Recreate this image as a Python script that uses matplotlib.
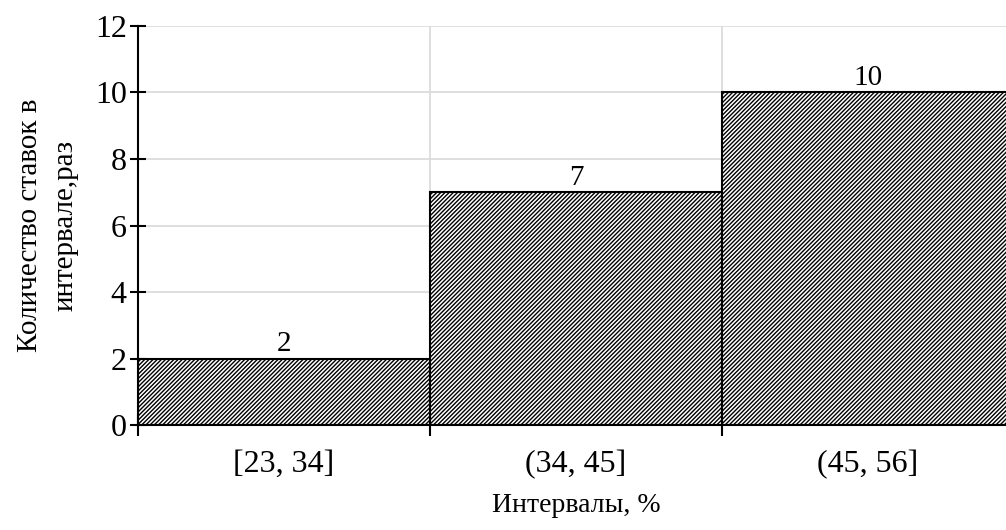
import matplotlib.pyplot as plt
import numpy as np

plt.rcParams['font.family'] = ['Liberation Serif', 'DejaVu Serif']
plt.rcParams['hatch.linewidth'] = 1.0

intervals = ['[23, 34]', '(34, 45]', '(45, 56]']
counts = [2, 7, 10]

fig = plt.figure(figsize=(10.06, 5.30), dpi=100)
ax = fig.add_axes([0.137, 0.198, 0.871, 0.753])

x = np.arange(len(counts))
bars = ax.bar(x, counts, width=1.0, color='white', edgecolor='black',
              linewidth=1.5, hatch='////////', zorder=3)
for xi, c in zip(x, counts):
    ax.text(xi, c + 0.05, str(c), ha='center', va='bottom', fontsize=21, zorder=4)

ax.set_xlim(-0.5, 2.5)
ax.set_ylim(0, 12)
ax.set_yticks(range(0, 13, 2))
ax.tick_params(axis='y', labelsize=23, direction='inout', length=12, width=1.5, pad=2)

# ticks at bin boundaries, labels in the middle
ax.set_xticks(np.arange(-0.5, 3.0, 1.0))
ax.set_xticklabels([])
ax.set_xticks(x, minor=True)
ax.set_xticklabels(intervals, minor=True)
ax.tick_params(axis='x', which='major', direction='inout', length=16, width=1.5)
ax.tick_params(axis='x', which='minor', length=0, labelsize=23, pad=18)

ax.grid(True, which='major', color='#d9d9d9', linewidth=1.2, zorder=0)
for s in ['top', 'right']:
    ax.spines[s].set_visible(False)
for s in ['left', 'bottom']:
    ax.spines[s].set_linewidth(1.5)
    ax.spines[s].set_zorder(5)

ax.set_xlabel('Интервалы, %', fontsize=20, labelpad=10)
ax.set_ylabel('Количество ставок в\nинтервале,раз', fontsize=21, labelpad=12,
              linespacing=1.45)

fig.savefig('out.png', dpi=100)
